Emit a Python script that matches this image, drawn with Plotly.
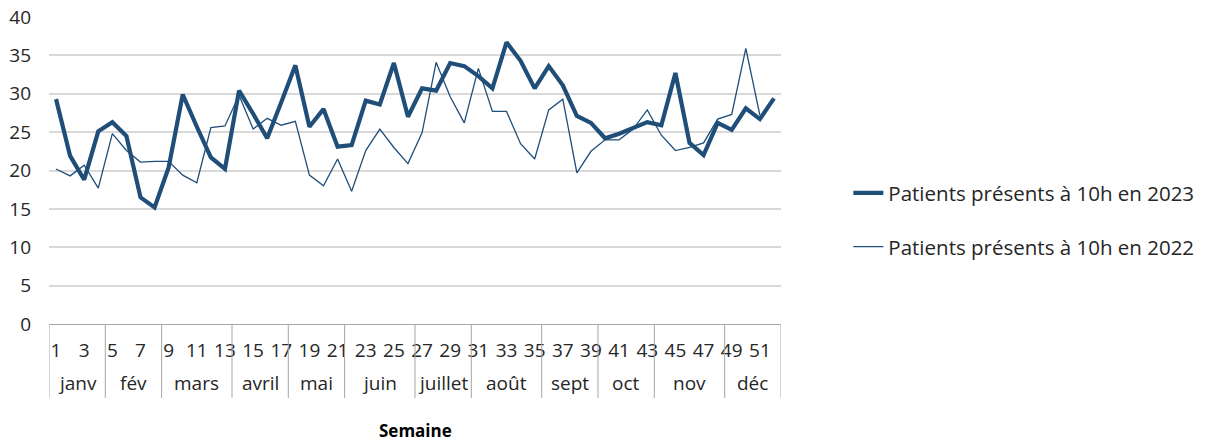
import plotly.graph_objects as go

weeks = list(range(1, 53))
months = ["janv", "fév", "mars", "avril", "mai", "juin", "juillet", "août", "sept", "oct", "nov", "déc"]
weeks_per_month = [4, 4, 5, 4, 4, 5, 4, 5, 4, 4, 5, 4]

patients_2023 = [29.3, 21.9, 18.8, 25.1, 26.3, 24.5, 16.5, 15.2, 20.4, 29.9,
                 25.7, 21.7, 20.2, 30.4, 27.4, 24.2, 28.9, 33.7, 25.7, 28.0,
                 23.1, 23.3, 29.1, 28.6, 34.0, 27.0, 30.7, 30.4, 34.0, 33.6,
                 32.3, 30.7, 36.7, 34.3, 30.7, 33.6, 31.1, 27.1, 26.2, 24.2,
                 24.8, 25.5, 26.3, 25.9, 32.7, 23.6, 22.0, 26.2, 25.3, 28.1,
                 26.7, 29.4]
patients_2022 = [20.2, 19.3, 20.7, 17.7, 24.8, 22.6, 21.1, 21.2, 21.2, 19.4,
                 18.4, 25.6, 25.8, 29.8, 25.4, 26.8, 25.9, 26.4, 19.4, 18.0,
                 21.5, 17.3, 22.6, 25.4, 23.0, 20.9, 24.9, 34.1, 29.6, 26.2,
                 33.3, 27.7, 27.7, 23.5, 21.5, 27.9, 29.3, 19.7, 22.5, 24.0,
                 24.0, 25.4, 27.9, 24.6, 22.6, 23.0, 23.6, 26.7, 27.3, 35.9,
                 27.2, None]

y_ticks = [0, 5, 10, 15, 20, 25, 30, 35, 40]
week_tick_vals = [w for w in weeks if w % 2 == 1]

FONT = "Open Sans"
BLUE = "#1f4e79"
AXIS_GRAY = "#a6a6a6"
TXT = "#262626"

fig = go.Figure()
fig.add_trace(go.Scatter(x=weeks, y=patients_2022, mode="lines",
                         name="Patients présents à 10h en 2022", showlegend=True,
                         line=dict(color=BLUE, width=1.3), legend="legend2"))
fig.add_trace(go.Scatter(x=weeks, y=patients_2023, mode="lines",
                         name="Patients présents à 10h en 2023", showlegend=True,
                         line=dict(color=BLUE, width=4.2), legend="legend"))

# month group dividers and labels
bounds = [0.5]
for n in weeks_per_month:
    bounds.append(bounds[-1] + n)
shapes = []
annotations = []
for b in bounds:
    shapes.append(dict(type="line", xref="x", yref="paper", x0=b, x1=b, y0=0, y1=-0.241,
                       line=dict(color=AXIS_GRAY, width=1)))
for i, m in enumerate(months):
    annotations.append(dict(x=(bounds[i] + bounds[i + 1]) / 2, y=-0.193, xref="x", yref="paper",
                            text=m, showarrow=False, xanchor="center", yanchor="middle",
                            font=dict(family=FONT, size=19, color=TXT)))
annotations.append(dict(x=0.5, y=-0.346, xref="paper", yref="paper", text="<b>Semaine</b>",
                        showarrow=False, xanchor="center", yanchor="middle",
                        font=dict(family=FONT, size=17, color="#000000")))

fig.update_layout(
    width=1199, height=431,
    margin=dict(l=41, r=426, t=9, b=115, autoexpand=False),
    paper_bgcolor="white", plot_bgcolor="white",
    showlegend=True,
    font=dict(family=FONT, size=19, color=TXT),
    xaxis=dict(range=[0.5, 52.5], tickmode="array", tickvals=week_tick_vals,
               ticktext=[str(w) for w in week_tick_vals], showgrid=False,
               showline=True, linecolor=AXIS_GRAY, linewidth=1, ticks="",
               ticklabelstandoff=9, zeroline=False, automargin=False,
               tickfont=dict(family=FONT, size=19, color=TXT)),
    yaxis=dict(range=[0, 40], tickmode="array", tickvals=y_ticks,
               showgrid=True, gridcolor="#d9d9d9", gridwidth=1.5, zeroline=False,
               showline=False, ticks="", ticklabelstandoff=17, automargin=False,
               ticklabeloverflow="allow",
               tickfont=dict(family=FONT, size=19, color=TXT)),
    shapes=shapes,
    annotations=annotations,
    legend=dict(x=1.092, y=0.4265, xanchor="left", yanchor="middle", bgcolor="rgba(0,0,0,0)",
                font=dict(family=FONT, size=20.5, color=TXT)),
    legend2=dict(x=1.092, y=0.2515, xanchor="left", yanchor="middle", bgcolor="rgba(0,0,0,0)",
                 font=dict(family=FONT, size=20.5, color=TXT)),
)

fig.write_html("out.html")
